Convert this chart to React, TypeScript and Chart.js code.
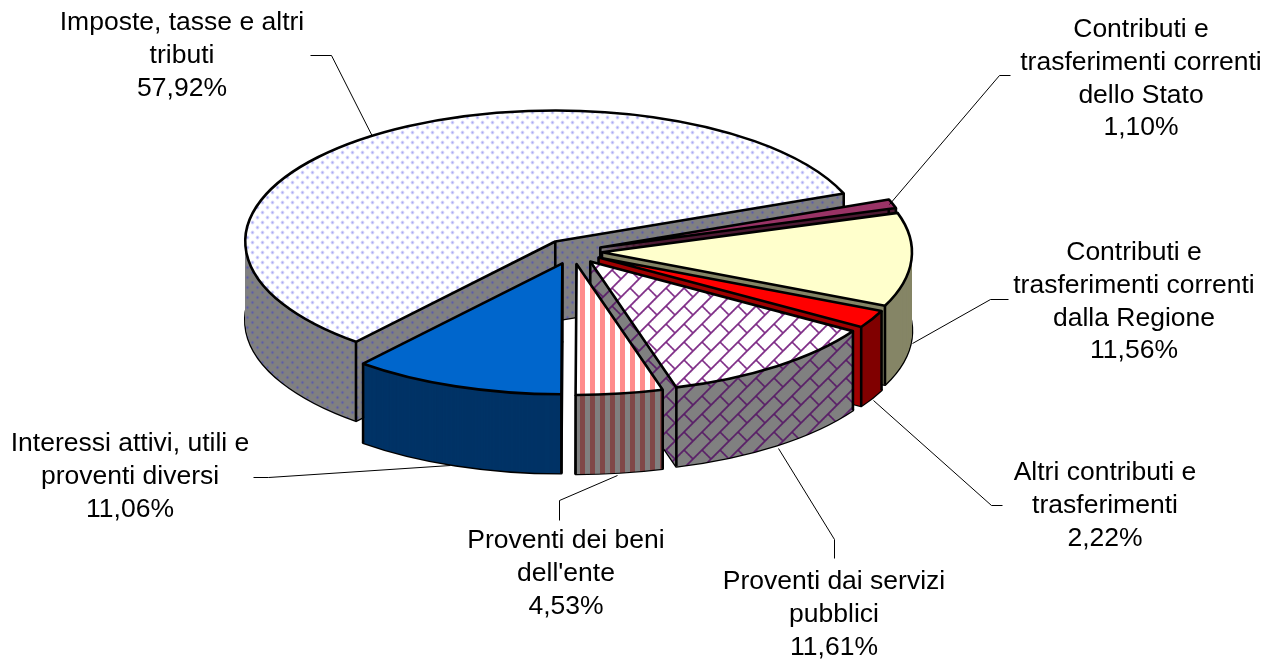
import React, { useEffect, useRef } from "react";
import { Chart, registerables } from "chart.js";

Chart.register(...registerables);

const categories = [
  "Imposte, tasse e altri\ntributi",
  "Contributi e\ntrasferimenti correnti\ndello Stato",
  "Contributi e\ntrasferimenti correnti\ndalla Regione",
  "Altri contributi e\ntrasferimenti",
  "Proventi dai servizi\npubblici",
  "Proventi dei beni\ndell'ente",
  "Interessi attivi, utili e\nproventi diversi",
];
const values = [57.92, 1.1, 11.56, 2.22, 11.61, 4.53, 11.06];

const labelCenters = [
  [182, 23], [1141, 30], [1134, 253], [1105, 473], [834, 582], [566, 541], [130, 444],
];
const leaders = [
  [[310, 55], [331, 55], [372, 136]],
  [[1010, 75], [999, 75], [889, 204]],
  [[1008, 299], [990, 299], [912, 343]],
  [[1002, 505], [991, 505], [873, 400]],
  [[834, 558], [834, 539], [778, 448]],
  [[559, 520], [559, 500], [617, 475]],
  [[253, 477], [268, 477], [450, 465]],
];

const ROTATION = 220;
const CENTER = [572.5, 251.6];
const RX = 310;
const RATIO = 0.4226;
const DEPTH = 79;
const EXPLODE = 29.5;
const FONT = '26.5px "Liberation Sans", Arial, sans-serif';
const LINE_H = 32.6;

function tile(w: number, h: number, paint: (c: CanvasRenderingContext2D) => void) {
  const cv = document.createElement("canvas");
  cv.width = w;
  cv.height = h;
  const c = cv.getContext("2d")!;
  paint(c);
  return c.createPattern(cv, "repeat")!;
}
function dots(bg: string, dot: string, core: string) {
  return tile(10, 10, (c) => {
    c.fillStyle = bg;
    c.fillRect(0, 0, 10, 10);
    for (const [x, y] of [[2.5, 2.5], [7.5, 7.5]]) {
      c.fillStyle = dot;
      c.beginPath();
      c.arc(x, y, 1.9, 0, Math.PI * 2);
      c.fill();
      c.fillStyle = core;
      c.beginPath();
      c.arc(x, y, 0.9, 0, Math.PI * 2);
      c.fill();
    }
  });
}
function stripes(a: string, b: string) {
  return tile(10, 2, (c) => {
    c.fillStyle = a;
    c.fillRect(0, 0, 10, 2);
    c.fillStyle = b;
    c.fillRect(0, 0, 5, 2);
  });
}
function bricks(bg: string, line: string) {
  const U = 18;
  const S = U * 2;
  return tile(S, S, (c) => {
    c.fillStyle = bg;
    c.fillRect(0, 0, S, S);
    c.filter = "blur(0.5px)";
    c.strokeStyle = line;
    c.lineWidth = 1.7;
    for (let k = -2 * S; k <= 3 * S; k += U) {
      c.beginPath();
      c.moveTo(k - 2 * S, 2 * S);
      c.lineTo(k + 2 * S, -2 * S);
      c.stroke();
    }
    const seg = (u0: number, v: number) => {
      c.beginPath();
      c.moveTo((u0 + v) / 2, (u0 - v) / 2);
      c.lineTo((u0 + U + v) / 2, (u0 + U - v) / 2);
      c.stroke();
    };
    for (let i = -4; i <= 4; i++) {
      for (let j = -4; j <= 4; j++) {
        seg(i * S, j * S);
        seg(i * S + U, j * S + U);
      }
    }
  });
}

function makePie3d(tops: any[], walls: any[], cuts: any[]) {
  return {
    id: "pie3d",
    beforeDraw(chart: any) {
      const c = chart.ctx;
      c.save();
      c.fillStyle = "#ffffff";
      c.fillRect(0, 0, chart.width, chart.height);
      c.restore();
    },
    beforeDatasetsDraw(chart: any) {
      const ctx: CanvasRenderingContext2D = chart.ctx;
      const arcs: any[] = chart.getDatasetMeta(0).data;
      const sx = RX / arcs[0].outerRadius;
      const sy = sx * RATIO;
      const order = arcs
        .map((a, i) => ({ a, i, mid: (a.startAngle + a.endAngle) / 2 }))
        .sort((p, q) => Math.sin(p.mid) - Math.sin(q.mid));

      for (const { a, i, mid } of order) {
        const ex = CENTER[0] + EXPLODE * Math.cos(mid);
        const ey = CENTER[1] + EXPLODE * Math.sin(mid) * RATIO;
        const place = (d: number) => {
          ctx.translate(ex, ey + d);
          ctx.scale(sx, sy);
          ctx.translate(-a.x, -a.y);
        };
        const outline = (d: number) => {
          ctx.save();
          place(d);
          ctx.beginPath();
          ctx.moveTo(a.x, a.y);
          ctx.arc(a.x, a.y, a.outerRadius, a.startAngle, a.endAngle);
          ctx.closePath();
          ctx.restore();
          ctx.lineWidth = 2.6;
          ctx.lineJoin = "round";
          ctx.strokeStyle = "#000";
          ctx.stroke();
        };
        const fillArc = (d: number, fill: any) => {
          ctx.save();
          place(d);
          if (fill && fill.setTransform) fill.setTransform(ctx.getTransform().inverse());
          const saved = a.options;
          a.options = {
            backgroundColor: fill, borderColor: fill, borderWidth: 0, offset: 0, spacing: 0,
            circular: true, borderAlign: "center", borderJoinStyle: "round", borderDash: [], borderDashOffset: 0,
          };
          a.draw(ctx);
          a.options = saved;
          ctx.restore();
        };
        outline(DEPTH);
        for (let d = DEPTH; d > 0; d -= 1) fillArc(d, walls[i]);
        const endRim = [ex + RX * Math.cos(a.endAngle), ey + RX * RATIO * Math.sin(a.endAngle)];
        const startRim = [ex + RX * Math.cos(a.startAngle), ey + RX * RATIO * Math.sin(a.startAngle)];
        if (cuts[i]) {
          ctx.fillStyle = cuts[i];
          ctx.beginPath();
          ctx.moveTo(ex, ey);
          ctx.lineTo(endRim[0], endRim[1]);
          ctx.lineTo(endRim[0], endRim[1] + DEPTH);
          ctx.lineTo(ex, ey + DEPTH);
          ctx.closePath();
          ctx.fill();
        }
        ctx.lineWidth = 2.6;
        ctx.strokeStyle = "#000";
        for (const [x, y] of [[ex, ey], startRim, endRim]) {
          ctx.beginPath();
          ctx.moveTo(x, y);
          ctx.lineTo(x, y + DEPTH);
          ctx.stroke();
        }
        fillArc(0, tops[i]);
        outline(0);
      }
      return false;
    },
    afterDraw(chart: any) {
      const ctx: CanvasRenderingContext2D = chart.ctx;
      ctx.save();
      ctx.strokeStyle = "#000";
      ctx.lineWidth = 1;
      for (const pts of leaders) {
        ctx.beginPath();
        pts.forEach(([x, y], j) => (j ? ctx.lineTo(x + 0.5, y + 0.5) : ctx.moveTo(x + 0.5, y + 0.5)));
        ctx.stroke();
      }
      ctx.fillStyle = "#000";
      ctx.font = FONT;
      ctx.textAlign = "center";
      ctx.textBaseline = "middle";
      categories.forEach((name, i) => {
        const lines = [...name.split("\n"), values[i].toFixed(2).replace(".", ",") + "%"];
        const [x, y] = labelCenters[i];
        lines.forEach((t, j) => ctx.fillText(t, x, y + j * LINE_H));
      });
      ctx.restore();
    },
  };
}

export default function App() {
  const ref = useRef<HTMLCanvasElement>(null);
  useEffect(() => {
    const tops = [
      dots("#ffffff", "#dcdcfa", "#a8a8f4"),
      "#993366",
      "#ffffcc",
      "#ff0000",
      bricks("#ffffff", "#7d2a85"),
      stripes("#ffffff", "#ff8c8c"),
      "#0066cc",
    ];
    const walls = [
      dots("#808080", "#77778e", "#5c5ca8"),
      "#4d1a33",
      "#858566",
      "#800000",
      bricks("#808080", "#5a1f68"),
      stripes("#808080", "#804848"),
      "#003366",
    ];
    const cuts = [null, null, null, "#a00000", null, null, null];
    const chart: any = new Chart(ref.current!, {
      type: "pie",
      data: {
        labels: categories,
        datasets: [{ data: values, backgroundColor: "#000", borderWidth: 0 }],
      },
      options: {
        responsive: false,
        animation: false,
        rotation: ROTATION,
        layout: { padding: 0 },
        plugins: { legend: { display: false }, tooltip: { enabled: false } },
      },
      plugins: [makePie3d(tops, walls, cuts)],
    } as any);
    return () => chart.destroy();
  }, []);
  return (
    <div style={{ position: "fixed", left: 0, top: 0, width: 1276, height: 661, background: "#fff" }}>
      <canvas ref={ref} width={1276} height={661} style={{ display: "block" }} />
    </div>
  );
}
